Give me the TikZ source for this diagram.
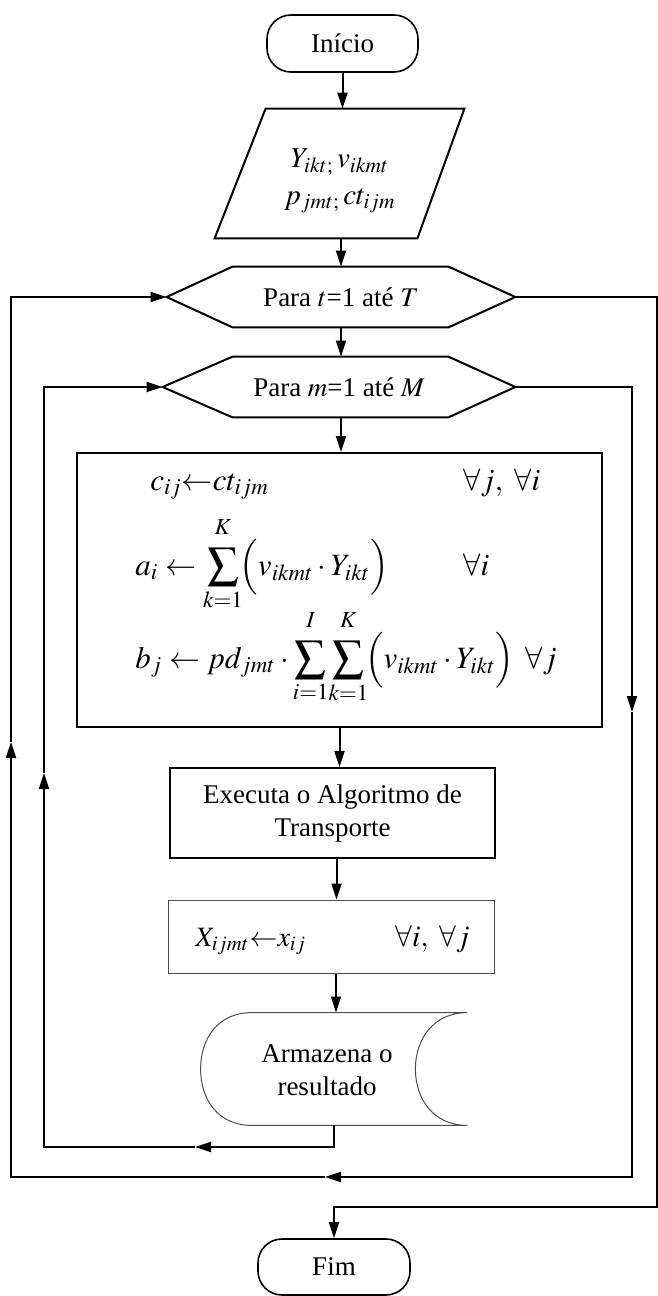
\documentclass[tikz,border=0pt]{standalone}
\usepackage{mathptmx}
\usepackage[no-math]{fontspec}
\setmainfont{Liberation Serif}
\usetikzlibrary{arrows.meta,calc}
\newcommand\lblsz{\fontsize{13.5}{16.5}\selectfont}
\newcommand\fmlsz{\fontsize{15.5}{18}\selectfont}
\newcommand\uplim[1]{#1\rule[-5pt]{0pt}{0pt}}
\begin{document}
\begin{tikzpicture}[x=0.5pt,y=-0.5pt,
  conn/.style={line width=1pt},
  arr/.style={conn,-{Triangle[length=8pt,width=5pt]}},
  outl/.style={draw,line width=1pt},
  thinoutl/.style={draw=black!70,line width=0.5pt},
  ghost/.style={draw=none,inner sep=0pt,font=\lblsz,align=center},
  term/.style={draw,line width=0.8pt,rounded corners=12pt,inner sep=0pt,font=\lblsz}]
\useasboundingbox (0,0) rectangle (658,1296);

% nodes
\node[term,minimum width=75.5pt,minimum height=28.5pt] (inicio) at (342.5,43.5) {Início};

\node[ghost,minimum width=124.5pt,minimum height=64.5pt] (io) at (339.5,173.5) {};
\draw[outl] ($(io.north west)+(51,0)$) -- (io.north east) -- ($(io.south east)+(-47,0)$) -- (io.south west) -- cycle;
\node[ghost,font=\fontsize{14.5}{18.5}\selectfont] (iotext) at (340,181) {$Y_{ikt;}\,v_{ikmt}$\\$p_{jmt;}\,ct_{ijm}$};

\node[ghost,minimum width=174pt,minimum height=30pt] (hexT) at (341,297) {Para $t$=1 até $T$};
\draw[outl] (hexT.west) -- ($(hexT.north west)+(66,0)$) -- ($(hexT.north east)+(-67,0)$) -- (hexT.east) -- ($(hexT.south east)+(-67,0)$) -- ($(hexT.south west)+(66,0)$) -- cycle;

\node[ghost,minimum width=176pt,minimum height=30pt] (hexM) at (339,387) {Para $m$=1 até $M$};
\draw[outl] (hexM.west) -- ($(hexM.north west)+(70,0)$) -- ($(hexM.north east)+(-67,0)$) -- (hexM.east) -- ($(hexM.south east)+(-67,0)$) -- ($(hexM.south west)+(70,0)$) -- cycle;

\node[ghost,outl,minimum width=262.5pt,minimum height=137pt] (calc) at (339.5,590) {};
\node[ghost,font=\fmlsz,anchor=base west] (f1) at (150,490) {$c_{ij}{\leftarrow}ct_{ijm}$};
\node[ghost,font=\fmlsz,anchor=base west] (q1) at (463,490) {$\forall j,\ \forall i$};
\node[ghost,font=\fmlsz,anchor=base west] (f2) at (135,575) {$a_{i}\leftarrow\displaystyle\sum_{k=1}^{\uplim{K}}\!\Bigl(v_{ikmt}\cdot Y_{ikt}\Bigr)$};
\node[ghost,font=\fmlsz,anchor=base west] (q2) at (463,575) {$\forall i$};
\node[ghost,font=\fmlsz,anchor=base west] (f3) at (135,668) {$b_{j}\leftarrow pd_{jmt}\cdot\displaystyle\sum_{i=1}^{\uplim{I}}\!\sum_{k=1}^{\uplim{K}}\!\Bigl(v_{ikmt}\cdot Y_{ikt}\Bigr)$};
\node[ghost,font=\fmlsz,anchor=base west] (q3) at (525,668) {$\forall j$};

\node[ghost,outl,minimum width=162.5pt,minimum height=45pt] (exec) at (332.5,813) {Executa o Algoritmo de\\Transporte};

\node[ghost,thinoutl,minimum width=163pt,minimum height=36.5pt] (xbox) at (331,936.5) {};
\node[ghost,font=\fontsize{14}{17}\selectfont,anchor=base west] (x1) at (195,946) {$X_{ijmt}{\leftarrow}x_{ij}$};
\node[ghost,font=\fontsize{15}{18}\selectfont,anchor=base west] (x2) at (395,946) {$\forall i,\ \forall j$};

\node[ghost,minimum width=133pt,minimum height=56pt] (store) at (334,1069) {};
\draw[thinoutl] (store.north east) -- ($(store.north west)+(51,0)$)
  .. controls ($(store.north west)+(17,0)$) and ($(store.west)+(0,-30)$) .. (store.west)
  .. controls ($(store.west)+(0,30)$) and ($(store.south west)+(17,0)$) .. ($(store.south west)+(51,0)$)
  -- (store.south east)
  .. controls ($(store.south east)+(-34,0)$) and ($(store.east)+(-52,30)$) .. ($(store.east)+(-52,0)$)
  .. controls ($(store.east)+(-52,-30)$) and ($(store.north east)+(-34,0)$) .. (store.north east);
\node[ghost] (storetext) at (327,1070) {Armazena o\\resultado};

\node[term,minimum width=76pt,minimum height=28pt] (fim) at (334,1267) {Fim};

% loop coordinates
\coordinate (inA) at (195,1147);
\coordinate (inU) at (44,773);
\coordinate (outD) at (632,712);
\coordinate (outA) at (325,1177);
\coordinate (outU) at (11,742);
\coordinate (exitR) at (657,1207);

% main flow
\draw[arr] (inicio.south) -- (inicio.south |- io.north);
\draw[arr] (io.south -| hexT.north) -- (hexT.north);
\draw[arr] (hexT.south) -- (hexT.south |- hexM.north);
\draw[arr] (hexT.south |- hexM.south) -- (hexT.south |- calc.north);
\draw[arr] (calc.south) -- (calc.south |- exec.north);
\draw[arr] ($(exec.south)+(4,0)$) -- ($(exec.south |- xbox.north)+(4,0)$);
\draw[arr] ($(xbox.south)+(5,0)$) -- ($(xbox.south |- store.north)+(5,0)$);

% inner loop
\draw[arr] (store.south) |- (inA);
\draw[arr] (inA) -| (inU);
\draw[arr] (inU) |- (hexM.west);

% outer loop
\draw[arr] (hexM.east) -| (outD);
\draw[arr] (outD) |- (outA);
\draw[arr] (outA) -| (outU);
\draw[arr] (outU) |- (hexT.west);

% exit
\draw[arr] (hexT.east) -| (exitR) -| (fim.north);
\end{tikzpicture}
\end{document}
